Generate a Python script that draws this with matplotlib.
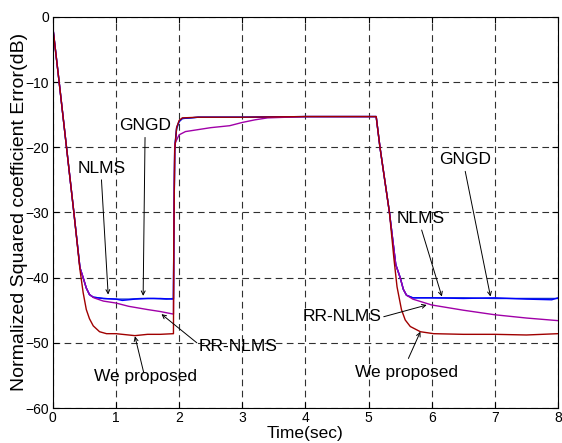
import matplotlib
matplotlib.use("Agg")
import matplotlib.pyplot as plt

plt.rcParams['font.family'] = ['Liberation Sans', 'DejaVu Sans']

# NLMS (blue)
nlms_t = [0, 0.005, 0.1, 0.333, 0.43, 0.48, 0.53, 0.58, 0.64, 0.8, 1.0, 1.1, 1.3, 1.5, 1.7, 1.91,
          1.915, 1.93, 1.96, 2.0, 2.05, 2.3, 3.0, 4.0, 5.0, 5.12, 5.18, 5.33, 5.43, 5.50, 5.55, 5.60,
          5.70, 6.0, 6.5, 7.0, 7.5, 7.9, 8.0]
nlms_db = [0, -2, -10, -30, -38.5, -40, -41.6, -42.6, -43.0, -43.2, -43.3, -43.5, -43.3, -43.2, -43.2, -43.3,
           -35, -20.5, -17, -16, -15.6, -15.4, -15.4, -15.3, -15.3, -15.3, -20, -30, -38, -40, -41.8, -42.7,
           -43.1, -43.1, -43.2, -43.1, -43.3, -43.4, -43.1]

# GNGD (overlaps NLMS)
gngd_t = [0, 0.005, 0.1, 0.333, 0.43, 0.48, 0.53, 0.58, 0.64, 0.8, 1.0, 1.2, 1.4, 1.6, 1.8, 1.91,
          1.915, 1.93, 1.96, 2.0, 2.05, 2.3, 3.0, 4.0, 5.0, 5.12, 5.18, 5.33, 5.43, 5.50, 5.55, 5.60,
          5.70, 6.0, 6.5, 7.0, 7.5, 8.0]
gngd_db = [0, -2, -10, -30, -38.5, -40, -41.6, -42.6, -43.0, -43.2, -43.3, -43.3, -43.2, -43.2, -43.3, -43.2,
           -35, -19.8, -17.2, -16.1, -15.6, -15.4, -15.4, -15.3, -15.3, -15.3, -20, -30, -38, -40, -41.8, -42.7,
           -43.1, -43.1, -43.1, -43.2, -43.2, -43.2]

# RR-NLMS (purple)
rr_t = [0, 0.005, 0.1, 0.333, 0.43, 0.48, 0.53, 0.58, 0.65, 0.8, 1.0, 1.2, 1.5, 1.7, 1.91,
        1.915, 1.93, 2.0, 2.1, 2.5, 2.8, 3.0, 3.2, 3.4, 4.0, 5.0, 5.12, 5.18, 5.33, 5.43, 5.50, 5.55,
        5.60, 5.70, 6.0, 6.5, 7.0, 7.5, 8.0]
rr_db = [0, -2, -10, -30, -38.5, -40, -41.6, -42.6, -43.1, -43.6, -43.9, -44.4, -44.9, -45.2, -45.6,
         -35, -19.5, -18.1, -17.6, -17.0, -16.7, -16.2, -15.8, -15.5, -15.3, -15.3, -15.3, -20, -30, -38, -40, -41.8,
         -42.7, -43.3, -44.2, -45.0, -45.7, -46.2, -46.6]

# We proposed (dark red)
prop_t = [0, 0.005, 0.1, 0.333, 0.43, 0.48, 0.53, 0.58, 0.64, 0.74, 0.85, 1.0, 1.2, 1.3, 1.5, 1.7, 1.91,
          1.915, 1.93, 1.96, 2.0, 2.05, 2.3, 3.0, 4.0, 5.0, 5.12, 5.18, 5.33, 5.40, 5.45, 5.52, 5.58,
          5.66, 5.82, 6.03, 6.5, 7.0, 7.5, 8.0]
prop_db = [0, -2, -10, -30, -38.8, -42.3, -44.9, -46.3, -47.4, -48.3, -48.6, -48.6, -48.8, -48.9, -48.7, -48.7, -48.6,
           -35, -20.5, -17, -15.9, -15.5, -15.4, -15.4, -15.3, -15.3, -15.3, -20, -30, -37, -41.4, -44.9, -46.5,
           -47.5, -48.3, -48.6, -48.7, -48.7, -48.8, -48.6]

# annotations: label, text position, arrow start, arrow tip
notes = [
    ("GNGD", (1.46, -16.6), (1.46, -18.5), (1.43, -42.8)),
    ("NLMS", (0.77, -23.2), (0.77, -25.0), (0.876, -42.6)),
    ("RR-NLMS", (2.93, -50.6), (2.28, -50.0), (1.72, -45.6)),
    ("We proposed", (1.46, -55.2), (1.44, -54.6), (1.30, -49.0)),
    ("GNGD", (6.53, -21.9), (6.53, -23.7), (6.93, -42.9)),
    ("NLMS", (5.82, -31.0), (5.84, -32.7), (6.16, -42.9)),
    ("RR-NLMS", (4.58, -46.0), (5.24, -46.0), (5.92, -44.2)),
    ("We proposed", (5.60, -54.5), (5.63, -52.4), (5.82, -48.3)),
]

fig = plt.figure(figsize=(5.62, 4.43), dpi=100)
ax = fig.add_axes([0.094, 0.079, 0.899, 0.883])

ax.plot(gngd_t, gngd_db, color='#1030d0', lw=1.0)
ax.plot(nlms_t, nlms_db, color='#0000ff', lw=1.0)
ax.plot(rr_t, rr_db, color='#a000a8', lw=1.0)
ax.plot(prop_t, prop_db, color='#a00000', lw=1.0)

for label, txt, start, tip in notes:
    ax.text(txt[0], txt[1], label, fontsize=12.5, ha='center', va='center')
    ax.annotate('', xy=tip, xytext=start,
                arrowprops=dict(arrowstyle='->', color='black', lw=0.7,
                                shrinkA=0, shrinkB=0, mutation_scale=7))

ax.set_xlim(0, 8)
ax.set_ylim(-60, 0)
ax.set_xticks(range(0, 9))
ax.set_yticks(range(-60, 1, 10))
ax.grid(True, color='#303030', linestyle=(0, (6, 4)), lw=0.8)
ax.tick_params(direction='in', top=True, right=True, length=4, labelsize=10, pad=2.5)
for s in ax.spines.values():
    s.set_linewidth(0.8)

ax.set_xlabel('Time(sec)', fontsize=12.5)
ax.set_ylabel('Normalized Squared coefficient Error(dB)', fontsize=14)
ax.xaxis.set_label_coords(0.5, -0.047)
ax.yaxis.set_label_coords(-0.05, 0.5)

fig.savefig('out.png', dpi=100)
